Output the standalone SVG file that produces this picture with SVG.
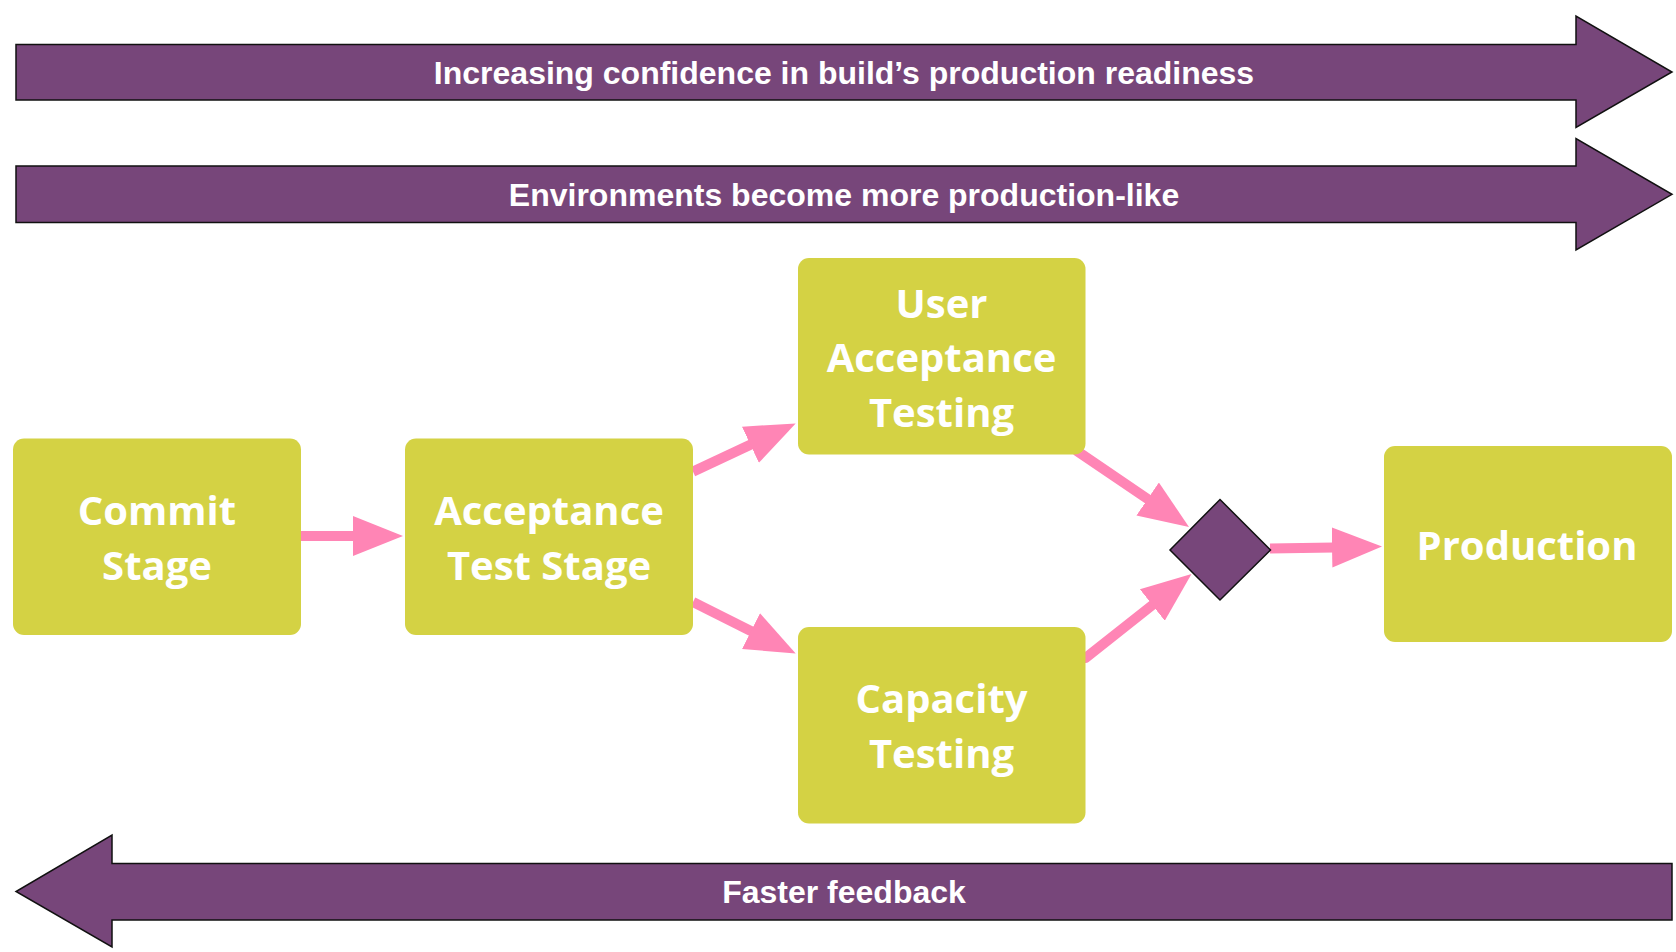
<svg xmlns="http://www.w3.org/2000/svg" width="1676" height="952" viewBox="0 0 1676 952">
<style>
.band{fill:#77467A;stroke:#111;stroke-width:1.5;stroke-linejoin:miter}
.bandtext{font-family:"Liberation Sans",Arial,sans-serif;font-weight:bold;font-size:32px;fill:#fff;text-anchor:middle}
.node{fill:#D4D244}
.ntext{font-family:"Open Sans","Noto Sans",sans-serif;font-weight:bold;font-size:40px;fill:#fff;text-anchor:middle}
.conn{stroke:#FF85B5;stroke-width:10;fill:none}
.diamond{fill:#77467A;stroke:#111;stroke-width:1.5}
</style>
<defs>
<marker id="ah" markerUnits="userSpaceOnUse" markerWidth="50" markerHeight="42" viewBox="0 0 50 42" refX="2" refY="21" orient="auto">
<path d="M0,1 L50,21 L0,41 z" fill="#FF85B5"/>
</marker>
</defs>
<rect width="1676" height="952" fill="#fff"/>
<g id="band-confidence">
<path class="band" d="M16,44.5 L1576,44.5 L1576,16 L1672,72 L1576,127.5 L1576,100 L16,100 z"/>
<text class="bandtext" x="844" y="84">Increasing confidence in build’s production readiness</text>
</g>
<g id="band-environments">
<path class="band" d="M16,166 L1576,166 L1576,138.5 L1672,194.3 L1576,250 L1576,222.5 L16,222.5 z"/>
<text class="bandtext" x="844" y="205.5">Environments become more production-like</text>
</g>
<g id="band-feedback">
<path class="band" d="M1672,863.5 L112,863.5 L112,835 L16,891.5 L112,947 L112,920 L1672,920 z"/>
<text class="bandtext" x="844" y="903">Faster feedback</text>
</g>
<g id="connectors">
<line class="conn" x1="300" y1="536" x2="355" y2="536" marker-end="url(#ah)"/>
<line class="conn" x1="693" y1="471.6" x2="752.2" y2="443.9" marker-end="url(#ah)"/>
<line class="conn" x1="693" y1="602" x2="752.8" y2="632" marker-end="url(#ah)"/>
<line class="conn" x1="1077" y1="451" x2="1149.3" y2="500.1" stroke-linecap="round" marker-end="url(#ah)"/>
<line class="conn" x1="1085.5" y1="658" x2="1153.9" y2="603.8" stroke-linecap="round" marker-end="url(#ah)"/>
<line class="conn" x1="1270" y1="548.6" x2="1334" y2="547.4" marker-end="url(#ah)"/>
</g>
<g id="commit-stage">
<rect class="node" x="13" y="438.5" width="288" height="196.5" rx="11"/>
<text class="ntext" x="157" y="525">Commit</text>
<text class="ntext" x="157" y="579.5">Stage</text>
</g>
<g id="acceptance-test-stage">
<rect class="node" x="405" y="438.5" width="288" height="196.5" rx="11"/>
<text class="ntext" x="549" y="525">Acceptance</text>
<text class="ntext" x="549" y="579.5">Test Stage</text>
</g>
<g id="user-acceptance-testing">
<rect class="node" x="798" y="258" width="287.5" height="196.5" rx="11"/>
<text class="ntext" x="941.5" y="318">User</text>
<text class="ntext" x="941.5" y="372">Acceptance</text>
<text class="ntext" x="941.5" y="426.5">Testing</text>
</g>
<g id="capacity-testing">
<rect class="node" x="798" y="627" width="287.5" height="196.5" rx="11"/>
<text class="ntext" x="941.5" y="713">Capacity</text>
<text class="ntext" x="941.5" y="767.5">Testing</text>
</g>
<g id="production">
<rect class="node" x="1384" y="446" width="288" height="196" rx="11"/>
<text class="ntext" x="1527" y="560">Production</text>
</g>
<g id="join-diamond">
<path class="diamond" d="M1220,499.5 L1270.5,550 L1220,600 L1170,550 z"/>
</g>
</svg>
